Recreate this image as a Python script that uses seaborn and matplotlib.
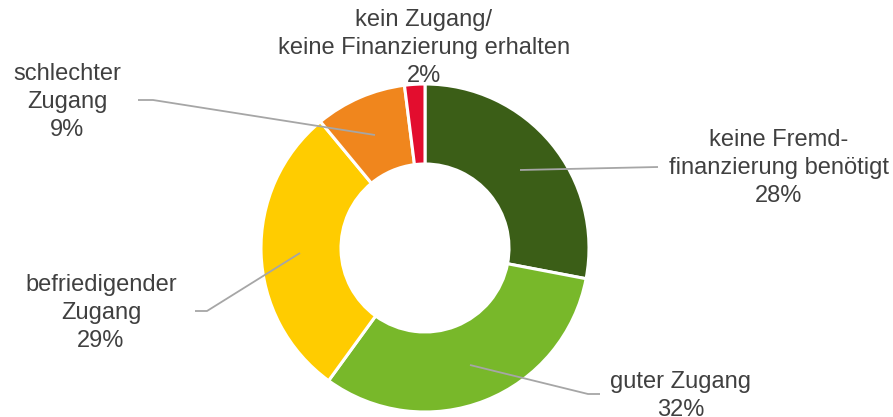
import matplotlib
matplotlib.use("Agg")
import matplotlib.pyplot as plt
import seaborn as sns

categories = ["keine Fremd-\nfinanzierung benötigt", "guter Zugang", "befriedigender\nZugang",
              "schlechter\nZugang", "kein Zugang/\nkeine Finanzierung erhalten"]
values = [28, 32, 29, 9, 2]
colors = ["#3b5e17", "#78b82a", "#ffcc00", "#f0861d", "#e30d2e"]

sns.set_theme(style="white")
plt.rcParams['font.family'] = ['Liberation Sans', 'DejaVu Sans']

W, H = 893, 417
fig = plt.figure(figsize=(W / 100, H / 100), dpi=100)
ax = fig.add_axes([0, 0, 1, 1])

def Y(y):
    return H - y

cx, cy, R = 425, 248, 164
ax.pie(values, colors=sns.color_palette(colors), startangle=90, counterclock=False,
       center=(cx, Y(cy)), radius=R, frame=True,
       wedgeprops=dict(width=R - 84, edgecolor='white', linewidth=2.2))
ax.set_xlim(0, W)
ax.set_ylim(0, H)
ax.set_aspect('equal')
ax.axis('off')

txt_color = "#404040"
label_pos = [(779, 168), (681, 396), (101, 313), (67, 102), (424, 48)]
for cat, v, (lx, ly) in zip(categories, values, label_pos):
    ax.text(lx, Y(ly), f"{cat}\n{v}%", ha='center', va='center', fontsize=17,
            color=txt_color, linespacing=1.33)

line_color = "#a6a6a6"
leaders = [
    [(520, 170), (658, 167)],
    [(470, 365), (588, 394), (600, 394)],
    [(300, 253), (207, 311), (195, 311)],
    [(375, 135), (153, 100), (138, 100)],
]
for pts in leaders:
    xs = [p[0] for p in pts]
    ys = [Y(p[1]) for p in pts]
    ax.plot(xs, ys, color=line_color, lw=1.3, solid_capstyle='butt')

fig.savefig("out.png", dpi=100, facecolor='white')
